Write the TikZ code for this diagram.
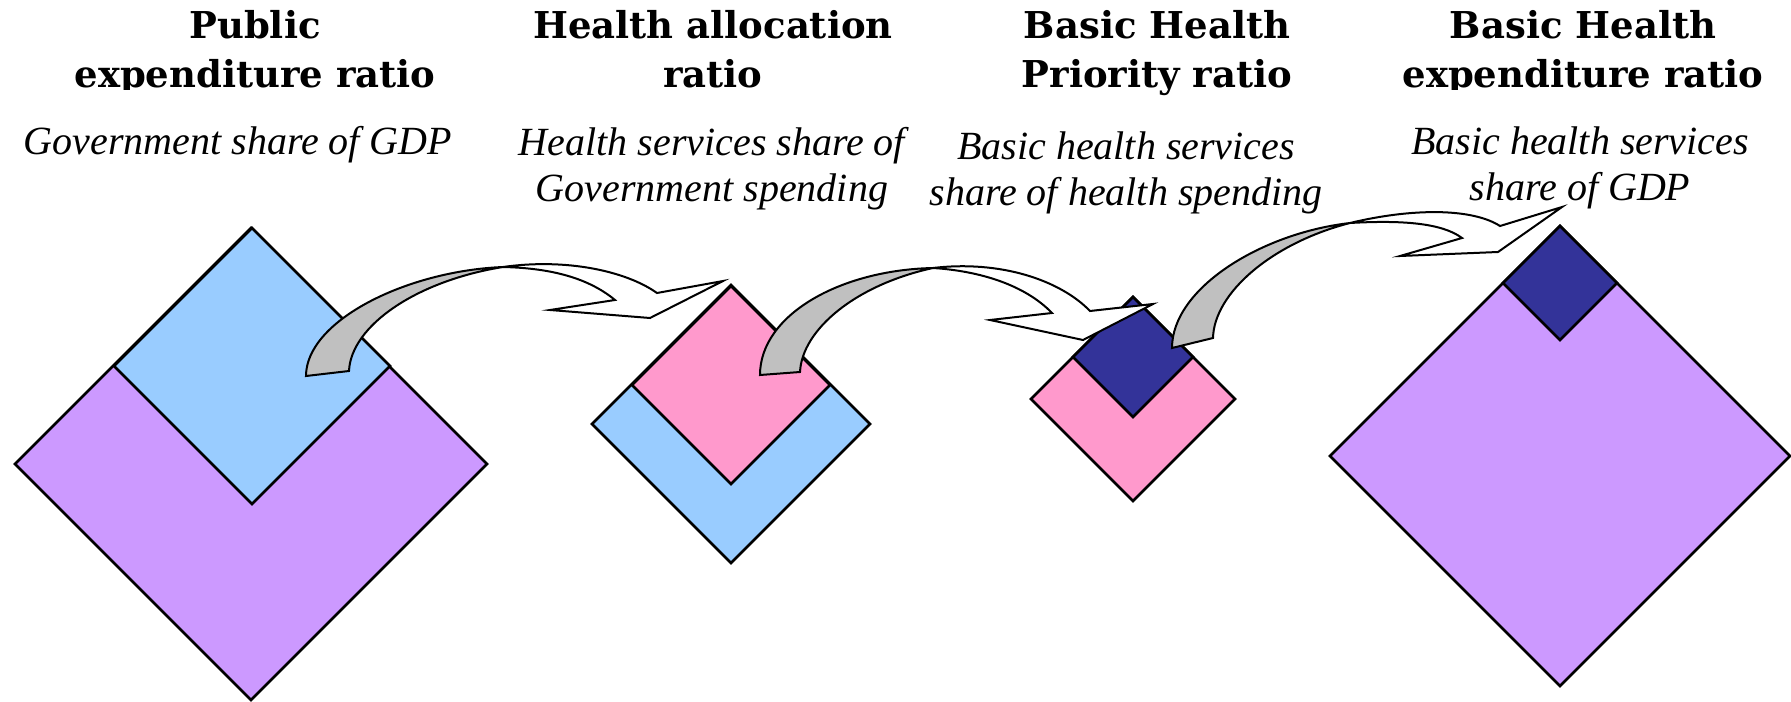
\documentclass[tikz,border=0pt]{standalone}
\usepackage{fontspec}
\setmainfont{Liberation Serif}
\newfontfamily\headfont{DejaVu Serif}
\usepackage{tikz}
\usetikzlibrary{shapes.geometric}

\definecolor{skyblue}{HTML}{99CCFF}
\definecolor{rosepink}{HTML}{FF99CC}
\definecolor{lilac}{HTML}{CC99FF}
\definecolor{navyblue}{HTML}{333399}
\definecolor{bandgray}{HTML}{C0C0C0}

\begin{document}
\begin{tikzpicture}[x=0.5pt, y=-0.5pt, outer sep=0pt]
          \newcommand{\ttlsize}{\fontsize{18.5}{24.5}\selectfont}
          \newcommand{\subsize}{\fontsize{20}{23}\selectfont}
          % half diagonal in px gives the node size in pt
          \newcommand{\sqnode}[5]{\node[sq, fill=#5, minimum size=#4pt] (#1) at (#2,#3) {};}

          \tikzstyle{sq}=[
            draw,
            diamond,
            aspect=1,
            inner sep=0pt,
            line width=1.3pt
          ]
          \tikzstyle{ttl}=[
            font=\headfont\bfseries\ttlsize,
            align=center,
            anchor=base
          ]
          \tikzstyle{subt}=[
            font=\itshape\subsize,
            align=center,
            anchor=base
          ]
          \tikzstyle{bandback} = [draw=black, fill=bandgray, line width=1pt]
          \tikzstyle{bandfront} = [draw=black, fill=white, line width=1pt]

          \useasboundingbox (0,0) rectangle (1791,701);

          % titles (anchored on the last line)
          \begin{scope}
            \clip (0,0) rectangle (1791,90);
            \node[ttl] (ttl1) at (255,88) {Public\\expenditure ratio};
            \node[ttl] (ttl4) at (1583,88) {Basic Health\\expenditure ratio};
          \end{scope}
          \node[ttl] (ttl2) at (713,88) {Health allocation\\ratio};
          \node[ttl] (ttl3) at (1157,88) {Basic Health\\Priority ratio};

          \node[subt] (sub1) at (238,155) {Government share of GDP};
          \node[subt] (sub2) at (712,201) {Health services share of\\Government spending};
          \node[subt] (sub3) at (1126,205) {Basic health services\\share of health spending};
          \node[subt] (sub4) at (1580,200) {Basic health services\\share of GDP};

          % squares
          \sqnode{gdp1}{251}{464}{236}{lilac}
          \sqnode{gov1}{252}{366}{138}{skyblue}
          \sqnode{gov2}{731}{424}{139}{skyblue}
          \sqnode{hlth2}{731}{385}{99}{rosepink}
          \sqnode{hlth3}{1133}{399}{102}{rosepink}
          \sqnode{bas3}{1133}{357}{60}{navyblue}
          \sqnode{gdp4}{1560}{456}{230}{lilac}
          \sqnode{bas4}{1560}{283}{57}{navyblue}

          \coordinate (tail1) at (306,376);
          \coordinate (tail2) at (760,375);
          \coordinate (tail3) at (1172,348);

          % gov1 -> hlth2
          \begin{scope}[shift={(tail1)}]
            \filldraw[bandback] (0,0) .. controls (0,-55) and (100,-105) .. (197,-109)
              .. controls (110,-95) and (45,-50) .. (43,-5) -- cycle;
            \filldraw[bandfront] (197,-109) .. controls (260,-118) and (320,-105) .. (351,-83)
              -- (417,-95) -- (344,-58) -- (244,-66) -- (309,-76)
              .. controls (280,-100) and (240,-108) .. (197,-109) -- cycle;
          \end{scope}

          % hlth2 -> bas3
          \begin{scope}[shift={(tail2)}]
            \filldraw[bandback] (0,0) .. controls (0,-60) and (80,-105) .. (173,-107)
              .. controls (95,-90) and (42,-45) .. (40,-3) -- cycle;
            \filldraw[bandfront] (173,-107) .. controls (240,-115) and (300,-95) .. (330,-64)
              -- (393,-71) -- (323,-35) -- (230,-55) -- (292,-62)
              .. controls (265,-90) and (220,-104) .. (173,-107) -- cycle;
          \end{scope}

          % bas3 -> bas4
          \begin{scope}[shift={(tail3)}]
            \filldraw[bandback] (0,0) .. controls (0,-60) and (90,-115) .. (178,-125)
              .. controls (100,-105) and (42,-55) .. (41,-10) -- cycle;
            \filldraw[bandfront] (178,-125) .. controls (240,-140) and (300,-140) .. (328,-122)
              -- (390,-141) -- (326,-96) -- (228,-92) -- (290,-110)
              .. controls (270,-125) and (230,-128) .. (178,-125) -- cycle;
          \end{scope}

        \end{tikzpicture}
\end{document}
